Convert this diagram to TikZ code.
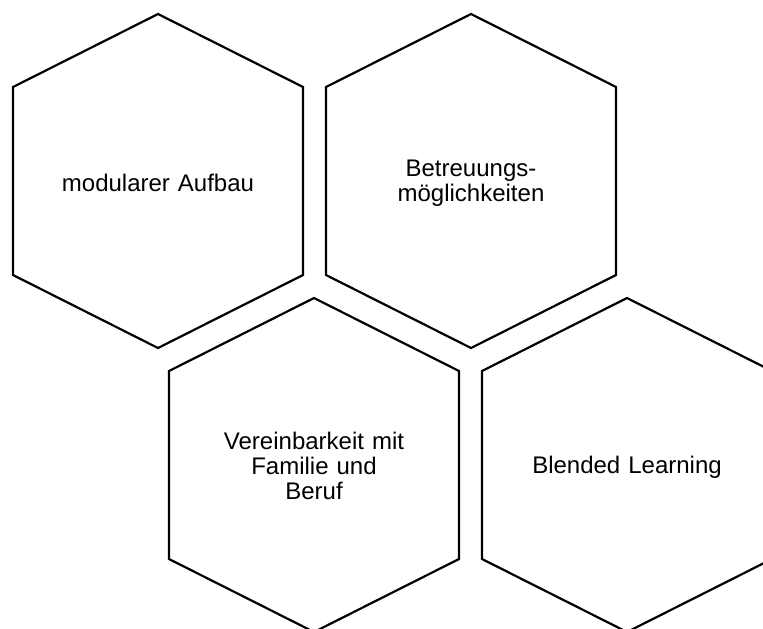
\documentclass[tikz,border=0pt]{standalone}
\usepackage{fontspec}
\setmainfont{Liberation Sans}
\tikzset{
    hexcell/.pic={
        \draw[hexline] (0,-167) -- (145,-94) -- (145,94) -- (0,167)
            -- (-145,94) -- (-145,-94) -- cycle;
    },
    hexline/.style={line width=1.1pt, black, line join=miter},
    hexlabel/.style={align=center, text width=125pt, font=\fontsize{12}{12.5}\selectfont},
}
\begin{document}
\begin{tikzpicture}[x=0.5pt, y=-0.5pt]
    \useasboundingbox (0,0) rectangle (763,628);
    \clip (0,0) rectangle (763,628);

    % Honeycomb cells
    \pic at (158,181) {hexcell};
    \pic at (471,181) {hexcell};
    \pic at (314,465) {hexcell};
    \pic at (627,465) {hexcell};

    % Labels
    \node[hexlabel] (aufbau) at (158,183) {modularer Aufbau};
    \node[hexlabel] (betreuung) at (471,183) {Betreuungs-\\möglichkeiten};
    \node[hexlabel] (familie) at (314,466) {Vereinbarkeit mit\\Familie und\\Beruf};
    \node[hexlabel] (blended) at (627,467) {Blended Learning};
\end{tikzpicture}
\end{document}
